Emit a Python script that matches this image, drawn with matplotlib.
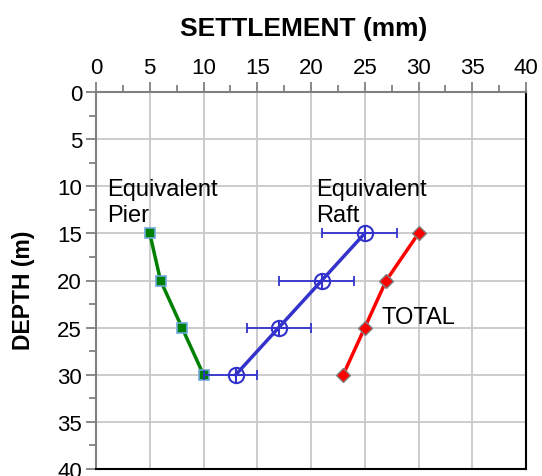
import matplotlib
matplotlib.use("Agg")
import matplotlib.pyplot as plt
from matplotlib.ticker import MultipleLocator

plt.rcParams['font.family'] = ['Liberation Sans', 'DejaVu Sans']

depth = [15, 20, 25, 30]
pier = [5, 6, 8, 10]
raft = [25, 21, 17, 13]
raft_low = [21, 17, 14, 10]
raft_high = [28, 24, 20, 15]
total = [30, 27, 25, 23]

fig = plt.figure(figsize=(5.42, 4.77), dpi=100)
ax = fig.add_axes([96/542, 1 - 470/477, 430/542, 377/477])

ax.set_xlim(0, 40)
ax.set_ylim(40, 0)
ax.xaxis.set_major_locator(MultipleLocator(5))
ax.xaxis.set_minor_locator(MultipleLocator(2.5))
ax.yaxis.set_major_locator(MultipleLocator(5))
ax.yaxis.set_minor_locator(MultipleLocator(2.5))
ax.xaxis.tick_top()
ax.xaxis.set_label_position('top')

ax.grid(True, which='major', color='#c8c8c8', linewidth=1.3, zorder=0)
ax.set_axisbelow(True)

for side in ('top', 'left'):
    ax.spines[side].set_color('#808080')
    ax.spines[side].set_linewidth(1.5)
for side in ('bottom', 'right'):
    ax.spines[side].set_color('black')
    ax.spines[side].set_linewidth(1.5)

ax.tick_params(axis='both', which='major', direction='out', length=7, width=1.3,
               color='#808080', labelsize=16, pad=3)
ax.tick_params(axis='both', which='minor', direction='out', length=5, width=1.3,
               color='#808080')

ax.set_xlabel('SETTLEMENT (mm)', fontsize=19, fontweight='bold')
ax.xaxis.set_label_coords(0.4837, 1.152)
ax.set_ylabel('DEPTH (m)', fontsize=16.5, fontweight='bold')
ax.yaxis.set_label_coords(-0.141, 0.477)

# Equivalent pier settlement
ax.plot(pier, depth, color='#008000', linewidth=2.5, marker='s', markersize=7,
        markerfacecolor='#008000', markeredgecolor='#6fa8dc', markeredgewidth=1.2,
        zorder=3)

# Equivalent raft settlement with range bars
xerr = [[r - lo for r, lo in zip(raft, raft_low)],
        [hi - r for r, hi in zip(raft, raft_high)]]
ax.errorbar(raft, depth, xerr=xerr, fmt='none', ecolor='#3333cc', elinewidth=1.3,
            capsize=3.6, capthick=1.3, zorder=3)
ax.plot(raft, depth, color='#3333cc', linewidth=2.5, zorder=4)
ax.plot(raft, depth, linestyle='none', marker='o', markersize=11,
        markerfacecolor='none', markeredgecolor='#3333cc', markeredgewidth=1.5, zorder=5)
ax.plot(raft, depth, linestyle='none', marker='+', markersize=11,
        markeredgecolor='#3333cc', markeredgewidth=1.5, zorder=5)

# Total settlement
ax.plot(total, depth, color='#ff0000', linewidth=2.5, marker='D', markersize=7,
        markerfacecolor='#ff0000', markeredgecolor='#808080', markeredgewidth=1.0,
        zorder=4)

ax.text(1.0, 9.15, 'Equivalent\nPier', fontsize=17, va='top', ha='left',
        linespacing=1.2)
ax.text(20.5, 9.15, 'Equivalent\nRaft', fontsize=17, va='top', ha='left',
        linespacing=1.2)
ax.text(26.6, 24.5, 'TOTAL', fontsize=17, va='baseline', ha='left')

fig.savefig('out.png', dpi=100)
